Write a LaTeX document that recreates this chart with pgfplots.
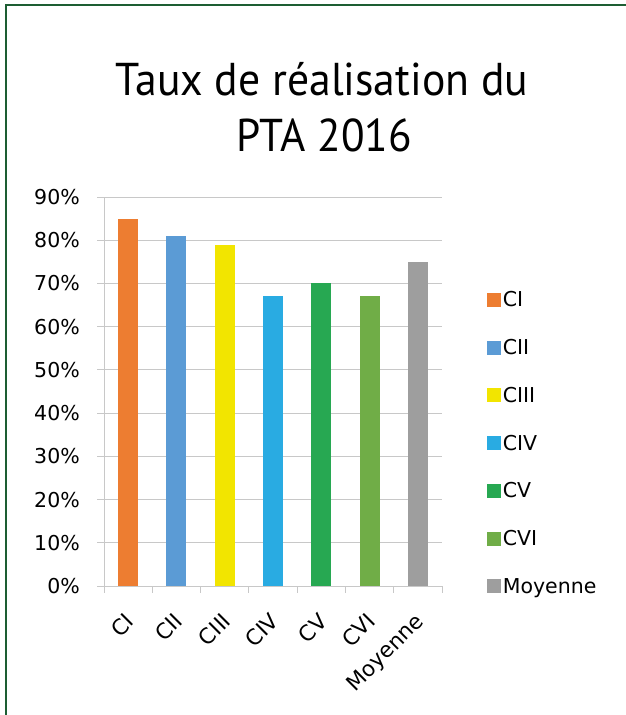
\documentclass[border=0pt]{standalone}
\usepackage{fontspec}
\setmainfont{DejaVu Sans}
\newfontfamily\titlefont{PT Sans}
\usepackage{pgfplots}
\pgfplotsset{compat=1.18}
\definecolor{cI}{HTML}{ED7D31}
\definecolor{cII}{HTML}{5B9BD5}
\definecolor{cIII}{HTML}{F2E500}
\definecolor{cIV}{HTML}{29ABE2}
\definecolor{cV}{HTML}{27A852}
\definecolor{cVI}{HTML}{70AD47}
\definecolor{cMoy}{HTML}{9E9E9E}
\definecolor{frame}{HTML}{1D5E33}
\definecolor{gridc}{HTML}{C8C8C8}
\begin{document}
\begin{tikzpicture}[x=1bp,y=1bp]
\useasboundingbox (0,0) rectangle (626,715);
\draw[frame, line width=2.2bp] (6,0) -- (6,710) -- (626,710);
\node[font=\titlefont\fontsize{46bp}{56bp}\selectfont, align=center, anchor=base] at (322,619) {\scalebox{0.95}[1]{Taux de réalisation du}};
\node[font=\titlefont\fontsize{46bp}{56bp}\selectfont, align=center, anchor=base] at (324,563) {\scalebox{0.94}[1]{PTA 2016}};
\begin{axis}[
  at={(104bp,129bp)}, anchor=south west,
  scale only axis, width=338bp, height=389bp,
  ybar, bar width=20bp, bar shift=0pt,
  xmin=-0.5, xmax=6.5, ymin=0, ymax=90,
  axis x line*=bottom, axis y line*=left,
  axis line style={gridc, line width=0.8bp},
  ytick={0,10,...,90},
  yticklabels={0\%,10\%,20\%,30\%,40\%,50\%,60\%,70\%,80\%,90\%},
  xtick={-0.5,0.5,...,6.5},
  x tick label as interval,
  xticklabels={CI,CII,CIII,CIV,CV,CVI,Moyenne},
  tick align=outside, major tick length=7bp,
  tick style={gridc, line width=0.8bp},
  ymajorgrids, grid style={gridc, line width=0.8bp},
  tick label style={font=\fontsize{20.5bp}{24bp}\selectfont},
  yticklabel style={inner sep=0pt, xshift=-17bp},
  xticklabel style={font=\fontsize{21.5bp}{24bp}\selectfont, rotate=45, anchor=north east, inner sep=0pt, xshift=-15.9bp, yshift=-10.2bp},
  legend style={draw=none, at={(1.132,0.763)}, anchor=north west, font=\fontsize{20.5bp}{24bp}\selectfont, row sep=27.1bp, inner sep=0pt, nodes={inner sep=2bp}},
  legend cell align=left,
  legend image code/.code={\fill[#1, draw=none] (-4bp,-7bp) rectangle (10bp,7bp);},
]
\addplot[fill=cI, draw=none] coordinates {(0,85)};
\addplot[fill=cII, draw=none] coordinates {(1,81)};
\addplot[fill=cIII, draw=none] coordinates {(2,79)};
\addplot[fill=cIV, draw=none] coordinates {(3,67)};
\addplot[fill=cV, draw=none] coordinates {(4,70)};
\addplot[fill=cVI, draw=none] coordinates {(5,67)};
\addplot[fill=cMoy, draw=none] coordinates {(6,75)};
\legend{CI,CII,CIII,CIV,CV,CVI,Moyenne}
\end{axis}
\end{tikzpicture}
\end{document}
